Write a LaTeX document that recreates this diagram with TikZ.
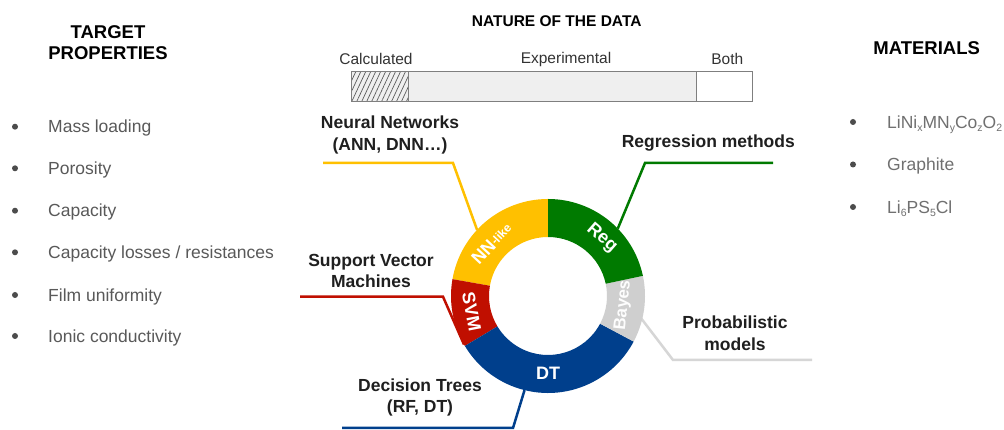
\documentclass[tikz,border=0pt]{standalone}
\usepackage{fontspec}
\setmainfont{Liberation Sans}
\usetikzlibrary{calc,patterns.meta}
\definecolor{nnyellow}{HTML}{FFC000}
\definecolor{reggreen}{HTML}{007A00}
\definecolor{dtblue}{HTML}{003F8C}
\definecolor{svmred}{HTML}{C00F00}
\definecolor{bayesgray}{HTML}{CFCFCF}
\definecolor{bayesline}{HTML}{D6D6D6}
\definecolor{itemgray}{HTML}{595959}
\definecolor{matgray}{HTML}{707070}
\definecolor{bargray}{HTML}{7F7F7F}
\definecolor{expfill}{HTML}{EFEFEF}
\newcommand\mysub[1]{\raisebox{-3pt}{\fontsize{10.5}{11}\selectfont #1}}
\begin{document}
\begin{tikzpicture}[x=1pt,y=1pt,
  lbl/.style={font=\fontsize{17.5}{21.5}\selectfont\bfseries, text=black!88, align=center, inner sep=0pt},
  item/.style={font=\fontsize{17.5}{21}\selectfont, text=itemgray, anchor=west, inner sep=0pt, text height=12.5pt, text depth=0pt},
  matitem/.style={item, text=matgray},
  head/.style={font=\fontsize{18.5}{21.6}\selectfont\bfseries, align=center, inner sep=0pt, text=black},
  bul/.style={circle, fill=black!70, inner sep=0pt, minimum size=6pt},
  seglbl/.style={font=\fontsize{18}{20}\selectfont\bfseries, text=white, inner sep=0pt},
  barlbl/.style={font=\fontsize{15.5}{18}\selectfont, text=black!80, inner sep=0pt},
  conn/.style={line width=2.5pt}
]
\useasboundingbox (0,0) rectangle (1004,430);
\fill[white] (0,0) rectangle (1004,430);

% ---------- Left column ----------
\node[head] (tp) at (108,387.5) {TARGET\\PROPERTIES};
\foreach \y/\t [count=\i] in {303.3/{Mass loading}, 261.7/{Porosity}, 219.3/{Capacity}, 177.7/{Capacity losses / resistances}, 135/{Film uniformity}, 94/{Ionic conductivity}}{
  \node[bul] (pb\i) at (15,\y) {};
  \node[item] (pt\i) at (48,\y) {\t};
}

% ---------- Right column ----------
\node[head] (mat) at (926.7,381.7) {MATERIALS};
\node[bul] (mb1) at (853,308) {};
\node[matitem] (mt1) at (887,308) {LiNi\mysub{x}MN\mysub{y}Co\mysub{z}O\mysub{2}};
\node[bul] (mb2) at (853,265.5) {};
\node[matitem] (mt2) at (887,265.5) {Graphite};
\node[bul] (mb3) at (853,223) {};
\node[matitem] (mt3) at (887,223) {Li\mysub{6}PS\mysub{5}Cl};

% ---------- Nature of the data ----------
\node[font=\fontsize{15.5}{18}\selectfont\bfseries, inner sep=0pt] (nat) at (556.7,409) {NATURE OF THE DATA};
\fill[expfill] (351,328.3) rectangle (696.7,358.3);
\fill[pattern={Lines[angle=65,distance=4.5pt,line width=0.7pt]}, pattern color=black!65] (351,328.3) rectangle (408.3,358.3);
\draw[bargray, line width=1pt] (351,328.3) rectangle (752.7,358.3);
\draw[bargray, line width=1pt] (408.3,328.3) -- (408.3,358.3);
\draw[bargray, line width=1pt] (696.7,328.3) -- (696.7,358.3);
\node[barlbl] (calc) at (376,370.7) {Calculated};
\node[barlbl] (expe) at (566,370.7) {Experimental};
\node[barlbl] (both) at (727.3,370.7) {Both};

% ---------- Donut geometry ----------
\coordinate (C) at (548,134);
\def\Ro{97}
\def\Ri{59}

% connectors (drawn beneath the ring)
\coordinate (nnA) at (323,267); \coordinate (nnB) at (453,267); \coordinate (nnC) at ($(C)+(137:97)$);
\coordinate (rgA) at (773,267); \coordinate (rgB) at (645,267); \coordinate (rgC) at ($(C)+(44:97)$);
\coordinate (svA) at (300,133.3); \coordinate (svB) at (443,133.3); \coordinate (svC) at ($(C)+(210:97)$);
\coordinate (byA) at (812,70); \coordinate (byB) at (673,70); \coordinate (byC) at ($(C)+(-11:91)$);
\coordinate (dtA) at (342,2); \coordinate (dtB) at (513,2); \coordinate (dtC) at ($(C)+(256:97)$);
\draw[conn, nnyellow] (nnA) -- (nnB) -- (nnC);
\draw[conn, reggreen] (rgA) -- (rgB) -- (rgC);
\draw[conn, svmred] (svA) -- (svB) -- (svC);
\draw[conn, bayesline] (byA) -- (byB) -- (byC);
\draw[conn, dtblue] (dtA) -- (dtB) -- (dtC);

% ring segments
\foreach \a/\b/\c in {90/170/nnyellow, 170/211/svmred, 211/332/dtblue, 332/372/bayesgray, 12/90/reggreen}{
  \fill[\c] ($(C)+(\a:\Ro)$) arc[start angle=\a, end angle=\b, radius=\Ro]
    -- ($(C)+(\b:\Ri)$) arc[start angle=\b, end angle=\a, radius=\Ri] -- cycle;
}

% ring labels
\node[seglbl, rotate=47] (nnl) at ($(C)+(137:77)$) {NN\raisebox{1.5pt}{\fontsize{12}{12}\selectfont-like}};
\node[seglbl, rotate=-41] (regl) at ($(C)+(47:79)$) {Reg};
\node[seglbl, rotate=84, text=white!96!bayesgray, font=\fontsize{17}{19}\selectfont\bfseries] (bayl) at ($(C)+(-7:76)$) {Bayes};
\node[seglbl, rotate=-79] (svml) at ($(C)+(191.5:78)$) {SVM};
\node[seglbl] (dtl) at ($(C)+(270:77)$) {DT};

% method labels
\node[lbl] (nn) at (390,295) {Neural Networks\\(ANN, DNN\ldots)};
\node[lbl] (reg) at (708.3,287.3) {Regression methods};
\node[lbl] (svm) at (371,159.2) {Support Vector\\Machines};
\node[lbl] (prob) at (735,96.5) {Probabilistic\\models};
\node[lbl] (dt) at (420,32.5) {Decision Trees\\(RF, DT)};
\end{tikzpicture}
\end{document}
